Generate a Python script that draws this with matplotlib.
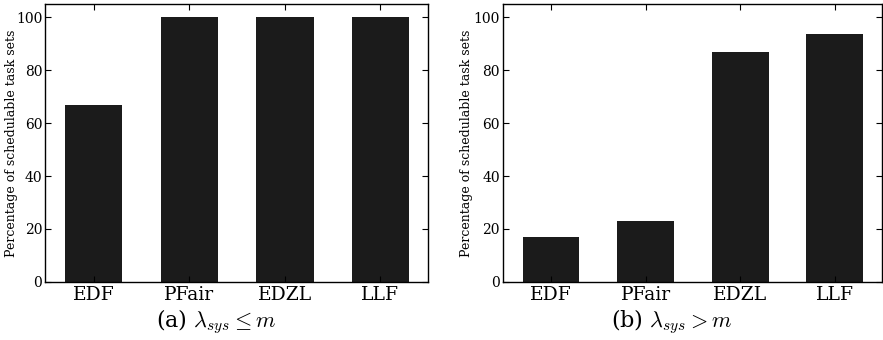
import matplotlib
matplotlib.use("Agg")
import matplotlib.pyplot as plt

plt.rcParams['font.family'] = ['DejaVu Serif']
plt.rcParams['mathtext.fontset'] = 'cm'

algorithms = ['EDF', 'PFair', 'EDZL', 'LLF']
sched_a = [66.7, 100, 100, 100]   # lambda_sys <= m
sched_b = [17.0, 23.0, 86.9, 93.7]  # lambda_sys > m
captions = [r'(a) $\lambda_{sys} \leq m$', r'(b) $\lambda_{sys} > m$']

fig = plt.figure(figsize=(8.83, 3.4), dpi=100)
ax1 = fig.add_axes([0.051, 0.171, 0.434, 0.817])
ax2 = fig.add_axes([0.5693, 0.171, 0.4297, 0.817])

for ax, vals, lx in zip([ax1, ax2], [sched_a, sched_b], [-0.07, -0.078]):
    ax.bar(range(len(algorithms)), vals, width=0.6, color='#1b1b1b')
    ax.set_xlim(-0.51, 3.5)
    ax.set_ylim(0, 105)
    ax.set_yticks([0, 20, 40, 60, 80, 100])
    ax.set_xticks(range(len(algorithms)))
    ax.set_xticklabels(algorithms, fontsize=13.5)
    ax.tick_params(axis='y', labelsize=10, pad=2)
    ax.tick_params(direction='in', top=True, right=True, length=4, width=0.8)
    ax.tick_params(axis='x', pad=3)
    ax.set_ylabel('Percentage of schedulable task sets', fontsize=9)
    ax.yaxis.set_label_coords(lx, 0.5)
    for s in ax.spines.values():
        s.set_linewidth(1.0)

fig.text(216 / 883, 1 - 322 / 340, captions[0], ha='center', va='center', fontsize=16)
fig.text(672 / 883, 1 - 322 / 340, captions[1], ha='center', va='center', fontsize=16)

fig.savefig('out.png', dpi=100)
